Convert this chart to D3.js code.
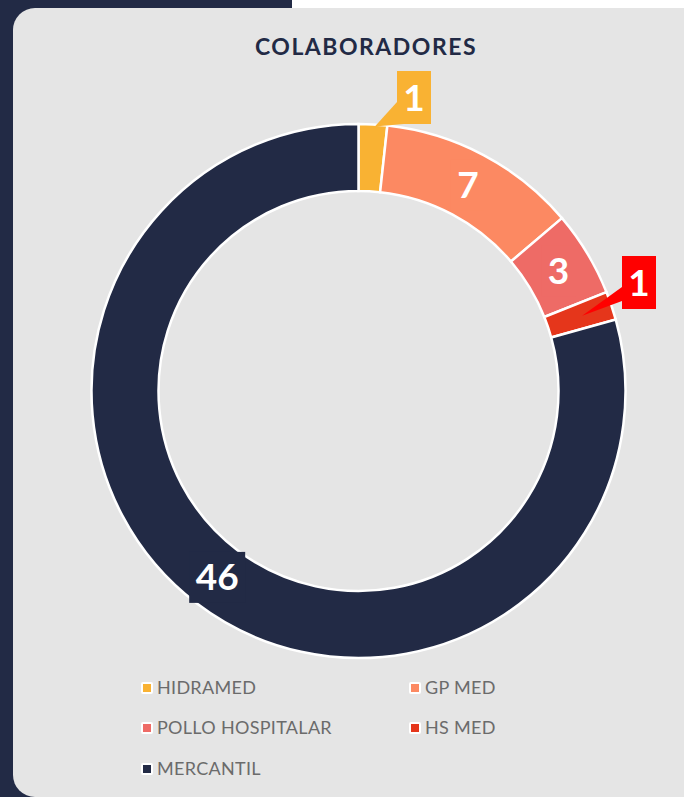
<!DOCTYPE html>
<html lang="pt">
<head>
    <meta charset="UTF-8">
    <title>Colaboradores</title>
    <script src="https://d3js.org/d3.v7.min.js"></script>
    <style>
        html, body { margin: 0; padding: 0; background: #ffffff; }
        #chart { display: block; }
    </style>
</head>
<body>
    <svg id="chart" width="684" height="797"></svg>

    <script>
        // dados
        const categories = ["HIDRAMED", "GP MED", "POLLO HOSPITALAR", "HS MED", "MERCANTIL"];
        const values = [1, 7, 3, 1, 46];
        const colors = ["#F9B233", "#FC8962", "#EE6B66", "#E5361B", "#222A45"];
        // rótulos que ficam fora do anel, com caixa e ponteiro
        const calloutBoxColors = { "HIDRAMED": "#F9B233", "HS MED": "#FF0000" };

        const navy = "#222A45";
        const svg = d3.select("#chart");

        // fundo: faixa azul à esquerda e cartão cinza
        svg.append("rect").attr("x", 0).attr("y", 0).attr("width", 684).attr("height", 797).attr("fill", "#ffffff");
        svg.append("rect").attr("x", 0).attr("y", 0).attr("width", 292).attr("height", 40).attr("fill", navy);
        svg.append("rect").attr("x", 0).attr("y", 0).attr("width", 40).attr("height", 797).attr("fill", navy);
        svg.append("rect")
            .attr("x", 13).attr("y", 8)
            .attr("width", 720).attr("height", 789)
            .attr("rx", 22).attr("ry", 22)
            .attr("fill", "#E5E5E5");

        svg.append("text")
            .attr("x", 366).attr("y", 55)
            .attr("text-anchor", "middle")
            .attr("font-family", "Lato, 'DejaVu Sans', sans-serif")
            .attr("font-weight", 700)
            .attr("font-size", "23px")
            .attr("letter-spacing", "1.5px")
            .attr("fill", navy)
            .text("COLABORADORES");

        const cx = 358.5, cy = 391;
        const outerR = 267, innerR = 200;

        const pie = d3.pie().sort(null).value(d => d.value);
        const data = categories.map((c, i) => ({ name: c, value: values[i], color: colors[i] }));
        const arcs = pie(data);
        const arc = d3.arc().innerRadius(innerR).outerRadius(outerR);

        const g = svg.append("g").attr("transform", `translate(${cx},${cy})`);

        g.selectAll("path.slice")
            .data(arcs)
            .enter().append("path")
            .attr("class", "slice")
            .attr("d", arc)
            .attr("fill", d => d.data.color)
            .attr("stroke", "#ffffff")
            .attr("stroke-width", 2.5);

        // rótulos internos (caixa da mesma cor da fatia)
        const inner = arcs.filter(d => !calloutBoxColors[d.data.name]);
        const labelG = g.selectAll("g.inlabel")
            .data(inner)
            .enter().append("g")
            .attr("class", "inlabel")
            .attr("transform", d => `translate(${arc.centroid(d)})`);

        labelG.append("rect")
            .attr("x", d => String(d.data.value).length > 1 ? -28 : -17)
            .attr("y", -25)
            .attr("width", d => String(d.data.value).length > 1 ? 56 : 34)
            .attr("height", 51)
            .attr("fill", d => d.data.color);

        labelG.append("text")
            .attr("text-anchor", "middle")
            .attr("dy", "0.36em")
            .attr("font-family", "Lato, 'DejaVu Sans', sans-serif")
            .attr("font-weight", 700)
            .attr("font-size", "37px")
            .attr("fill", "#ffffff")
            .text(d => d.data.value);

        // rótulos externos com ponteiro
        const callouts = arcs.filter(d => calloutBoxColors[d.data.name]);
        const boxPos = { "HIDRAMED": [414, 98], "HS MED": [639, 283] };
        const tipR = { "HIDRAMED": outerR - 2, "HS MED": 236 };

        callouts.forEach(d => {
            const name = d.data.name;
            const [bx, by] = boxPos[name];
            const a = (d.startAngle + d.endAngle) / 2;
            const r = tipR[name];
            const tx = cx + r * Math.sin(a), ty = cy - r * Math.cos(a);
            const fill = calloutBoxColors[name];
            const ptr = name === "HIDRAMED"
                ? [[bx - 17, by + 4], [bx - 10, by + 26], [tx + 2, ty]]
                : [[bx - 17, by + 4], [bx - 17, by + 18], [tx, ty]];
            svg.append("path")
                .attr("d", d3.line()(ptr) + "Z")
                .attr("fill", fill);
            svg.append("rect")
                .attr("x", bx - 17).attr("y", by - 27)
                .attr("width", 34).attr("height", 53)
                .attr("fill", fill);
            svg.append("text")
                .attr("x", bx).attr("y", by)
                .attr("text-anchor", "middle")
                .attr("dy", "0.36em")
                .attr("font-family", "Lato, 'DejaVu Sans', sans-serif")
                .attr("font-weight", 700)
                .attr("font-size", "37px")
                .attr("fill", "#ffffff")
                .text(d.data.value);
        });

        // legenda
        const legend = svg.append("g");
        const colX = [141, 409];
        const rowY = [688, 728, 769];
        const items = legend.selectAll("g.item")
            .data(data)
            .enter().append("g")
            .attr("class", "item")
            .attr("transform", (d, i) => `translate(${colX[i % 2]},${rowY[Math.floor(i / 2)]})`);

        items.append("rect")
            .attr("x", 0).attr("y", -6)
            .attr("width", 12).attr("height", 12)
            .attr("rx", 2)
            .attr("fill", "#ffffff");
        items.append("rect")
            .attr("x", 2).attr("y", -4)
            .attr("width", 8).attr("height", 8)
            .attr("fill", d => d.color);
        items.append("text")
            .attr("x", 16)
            .attr("dy", "0.36em")
            .attr("font-family", "Lato, 'DejaVu Sans', sans-serif")
            .attr("font-size", "18px")
            .attr("letter-spacing", "0.3px")
            .attr("fill", "#6B6B6B")
            .text(d => d.name);
    </script>
</body>
</html>
